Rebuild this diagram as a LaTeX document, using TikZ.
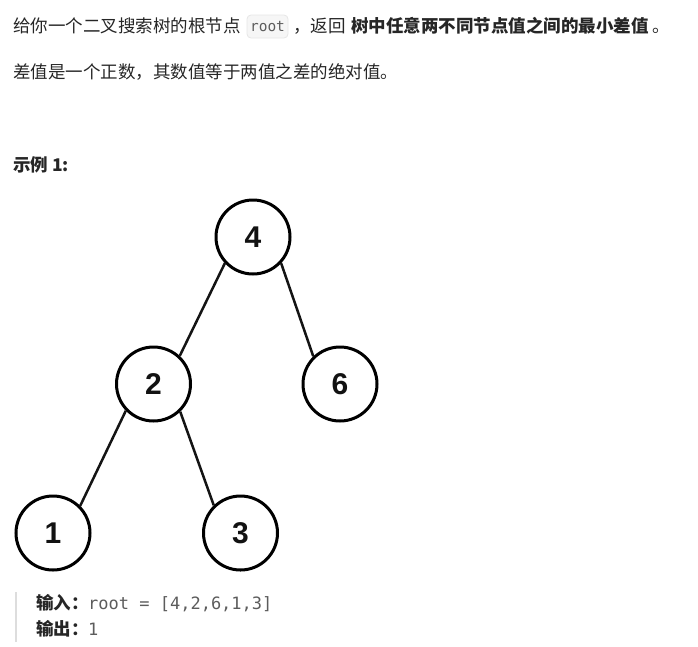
\documentclass[tikz,border=0pt]{standalone}
\usepackage{fontspec}
\newfontfamily\cjk{Noto Sans CJK SC}
\newfontfamily\digitfont{Liberation Sans}
\newfontfamily\monofont{DejaVu Sans Mono}
\definecolor{txt}{HTML}{262626}
\definecolor{codegray}{HTML}{5C5C5C}
\definecolor{codebg}{HTML}{F6F6F6}
\definecolor{codeborder}{HTML}{E6E6E6}
\definecolor{barcol}{HTML}{DDDDDD}
\begin{document}
\begin{tikzpicture}[x=1pt,y=-1pt,
  body/.style={anchor=base west,inner sep=0pt,outer sep=0pt,text=txt,font=\cjk\fontsize{17.5}{20}\selectfont},
  bodybold/.style={body,font=\cjk\bfseries\fontsize{17.5}{20}\selectfont},
  codetxt/.style={anchor=base west,inner sep=0pt,text=codegray,font=\monofont\fontsize{17}{20}\selectfont},
  inlinecode/.style={draw=codeborder,fill=codebg,rounded corners=4pt,line width=0.8pt,minimum width=41pt,minimum height=23pt,inner sep=0pt,text=codegray,font=\monofont\fontsize{14.5}{16}\selectfont},
  treenode/.style={circle,draw=black,line width=3pt,minimum size=74pt,inner sep=0pt,font=\digitfont\bfseries\fontsize{30}{32}\selectfont,text=black!93},
  edge/.style={draw=black!92,line width=2.5pt}]
\useasboundingbox (0,0) rectangle (698,646);
% first paragraph
\node[body] (p1a) at (13,32) {给你一个二叉搜索树的根节点};
\node[inlinecode] (rootcode) at (267.5,26.5) {root};
\node[body] (p1b) at (293,32) {，返回};
\node[bodybold] (p1c) at (351,32) {树中任意两不同节点值之间的最小差值};
\node[body] (p1d) at (652,32) {。};
% second paragraph
\node[body] (p2) at (13,78.5) {差值是一个正数，其数值等于两值之差的绝对值。};
% example heading
\node[bodybold] (ex) at (13,171.5) {示例 1:};
% tree
\node[treenode] (n4) at (253,237) {4};
\node[treenode] (n2) at (153.5,384) {2};
\node[treenode] (n6) at (340,384) {6};
\node[treenode] (n1) at (53,533) {1};
\node[treenode] (n3) at (240.5,533) {3};
\path[edge] (n4.223) -- (n2.47);
\path[edge] (n4.-43) -- (n6.134);
\path[edge] (n2.224) -- (n1.45);
\path[edge] (n2.-46) -- (n3.134);
% example block
\coordinate (bartop) at (16,592);
\coordinate (barbot) at (16,642);
\draw[barcol,line width=2.5pt] (bartop) -- (barbot);
\node[bodybold] (inlab) at (36,609.5) {输入：};
\node[codetxt] (inval) at (88,609.5) {root = [4,2,6,1,3]};
\node[bodybold] (outlab) at (36,635.5) {输出：};
\node[codetxt] (outval) at (88,635.5) {1};
\end{tikzpicture}
\end{document}
